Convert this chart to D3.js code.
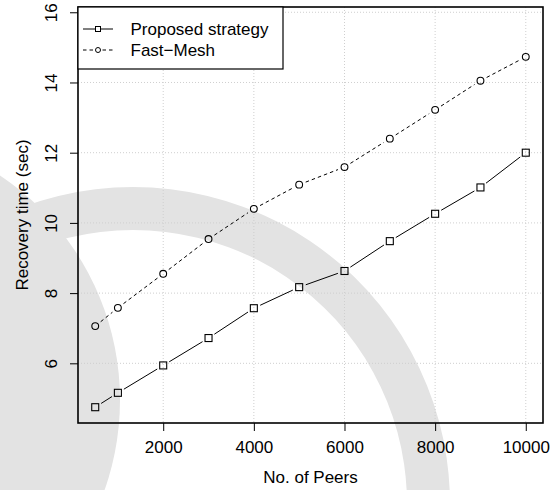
<!DOCTYPE html>
<html>
<head>
<meta charset="utf-8">
<script src="https://cdn.jsdelivr.net/npm/d3@7"></script>
<style>
  html, body { margin: 0; padding: 0; background: #ffffff; }
  svg { display: block; }
  text { font-family: "Liberation Sans", Arial, Helvetica, sans-serif; fill: #000; }
</style>
</head>
<body>
<svg id="chart" width="554" height="490"></svg>
<script>
// ---- data ----
const peers = [500, 1000, 2000, 3000, 4000, 5000, 6000, 7000, 8000, 9000, 10000];
const proposed = [4.75, 5.16, 5.94, 6.72, 7.57, 8.17, 8.63, 9.48, 10.26, 11.01, 12.0];
const fastMesh = [7.06, 7.58, 8.55, 9.54, 10.40, 11.09, 11.59, 12.40, 13.22, 14.05, 14.73];
const seriesNames = ["Proposed strategy", "Fast\u2212Mesh"];
const xTicks = [2000, 4000, 6000, 8000, 10000];
const yTicks = [6, 8, 10, 12, 14, 16];
const xTitle = "No. of Peers";
const yTitle = "Recovery time (sec)";

// ---- layout ----
const W = 554, H = 490;
const plot = { left: 78, right: 543, top: 7, bottom: 423 };
const svg = d3.select("#chart");

// faint background watermark (decorative)
const wm = svg.append("g").attr("fill", "#e3e3e3");
wm.append("path")
  .attr("transform", "translate(133,504)")
  .attr("d", d3.arc()({ innerRadius: 274, outerRadius: 317, startAngle: -1.9, endAngle: 1.9 }));
wm.append("circle").attr("cx", -150).attr("cy", 400).attr("r", 270);

const x = d3.scaleLinear().domain([120, 10380]).range([plot.left, plot.right]);
const y = d3.scaleLinear().domain([4.30, 16.15]).range([plot.bottom, plot.top]);

// grid
const grid = svg.append("g").attr("stroke", "#cfcfcf").attr("stroke-width", 1).attr("stroke-dasharray", "1,2");
grid.selectAll("line.v").data(xTicks).join("line")
  .attr("x1", d => x(d)).attr("x2", d => x(d))
  .attr("y1", plot.top).attr("y2", plot.bottom);
grid.selectAll("line.h").data(yTicks).join("line")
  .attr("x1", plot.left).attr("x2", plot.right)
  .attr("y1", d => y(d)).attr("y2", d => y(d));

// axes
const fmt = d3.format("d");
const gx = svg.append("g").attr("transform", `translate(0,${plot.bottom})`)
  .call(d3.axisBottom(x).tickValues(xTicks).tickSize(8).tickPadding(12).tickFormat(fmt));
gx.select(".domain").remove();
gx.selectAll("text").attr("font-size", 17).attr("font-family", "Liberation Sans, Arial, sans-serif").attr("dy", null).attr("y", 30);
gx.selectAll("line").attr("stroke", "#000");

const gy = svg.append("g").attr("transform", `translate(${plot.left},0)`)
  .call(d3.axisLeft(y).tickValues(yTicks).tickSize(8).tickFormat(fmt));
gy.select(".domain").remove();
gy.selectAll("line").attr("stroke", "#000");
gy.selectAll("text")
  .attr("font-size", 17).attr("font-family", "Liberation Sans, Arial, sans-serif")
  .attr("x", null).attr("dy", null)
  .attr("text-anchor", "middle")
  .attr("transform", "translate(-21,0) rotate(-90)");

// axis titles
svg.append("text").attr("x", (plot.left + plot.right) / 2).attr("y", 483)
  .attr("text-anchor", "middle").attr("font-size", 17).text(xTitle);
svg.append("text").attr("transform", `translate(27.5,${(plot.top + plot.bottom) / 2}) rotate(-90)`)
  .attr("text-anchor", "middle").attr("font-size", 17).text(yTitle);

// series lines (type "b": gaps around points)
const gap = 7;
function gappedSegments(xs, ys) {
  const segs = [];
  for (let i = 0; i < xs.length - 1; i++) {
    const x1 = x(xs[i]), y1 = y(ys[i]), x2 = x(xs[i + 1]), y2 = y(ys[i + 1]);
    const L = Math.hypot(x2 - x1, y2 - y1);
    if (L <= 2 * gap) continue;
    const ux = (x2 - x1) / L, uy = (y2 - y1) / L;
    segs.push([x1 + ux * gap, y1 + uy * gap, x2 - ux * gap, y2 - uy * gap]);
  }
  return segs;
}
const series = [
  { name: seriesNames[0], values: proposed, dash: null, shape: "square" },
  { name: seriesNames[1], values: fastMesh, dash: "3.5,3", shape: "circle" }
];
series.forEach(s => {
  const g = svg.append("g");
  g.selectAll("line").data(gappedSegments(peers, s.values)).join("line")
    .attr("x1", d => d[0]).attr("y1", d => d[1]).attr("x2", d => d[2]).attr("y2", d => d[3])
    .attr("stroke", "#000").attr("stroke-width", 1)
    .attr("stroke-dasharray", s.dash);
  const pts = peers.map((p, i) => [x(p), y(s.values[i])]);
  if (s.shape === "square") {
    g.selectAll("rect").data(pts).join("rect")
      .attr("x", d => d[0] - 3.5).attr("y", d => d[1] - 3.5)
      .attr("width", 7).attr("height", 7)
      .attr("fill", "none").attr("stroke", "#000").attr("stroke-width", 1.1);
  } else {
    g.selectAll("circle").data(pts).join("circle")
      .attr("cx", d => d[0]).attr("cy", d => d[1]).attr("r", 3.4)
      .attr("fill", "none").attr("stroke", "#000").attr("stroke-width", 1.1);
  }
});

// plot box
svg.append("rect").attr("x", plot.left).attr("y", plot.top)
  .attr("width", plot.right - plot.left).attr("height", plot.bottom - plot.top)
  .attr("fill", "none").attr("stroke", "#000").attr("stroke-width", 1.6);

// legend
const leg = svg.append("g");
leg.append("rect").attr("x", plot.left).attr("y", plot.top).attr("width", 205).attr("height", 62)
  .attr("fill", "#fff").attr("stroke", "#000").attr("stroke-width", 1.2);
const rowsY = [29, 50];
series.forEach((s, i) => {
  const cy = rowsY[i];
  leg.append("line").attr("x1", 83).attr("x2", 113).attr("y1", cy).attr("y2", cy)
    .attr("stroke", "#000").attr("stroke-width", 1).attr("stroke-dasharray", s.dash);
  if (s.shape === "square") {
    leg.append("rect").attr("x", 98 - 2.5).attr("y", cy - 2.5).attr("width", 5).attr("height", 5)
      .attr("fill", "#fff").attr("stroke", "#000").attr("stroke-width", 1);
  } else {
    leg.append("circle").attr("cx", 98).attr("cy", cy).attr("r", 2.5)
      .attr("fill", "#fff").attr("stroke", "#000").attr("stroke-width", 1);
  }
  leg.append("text").attr("x", 130.5).attr("y", cy + 6).attr("font-size", 17).text(s.name);
});
</script>
</body>
</html>
